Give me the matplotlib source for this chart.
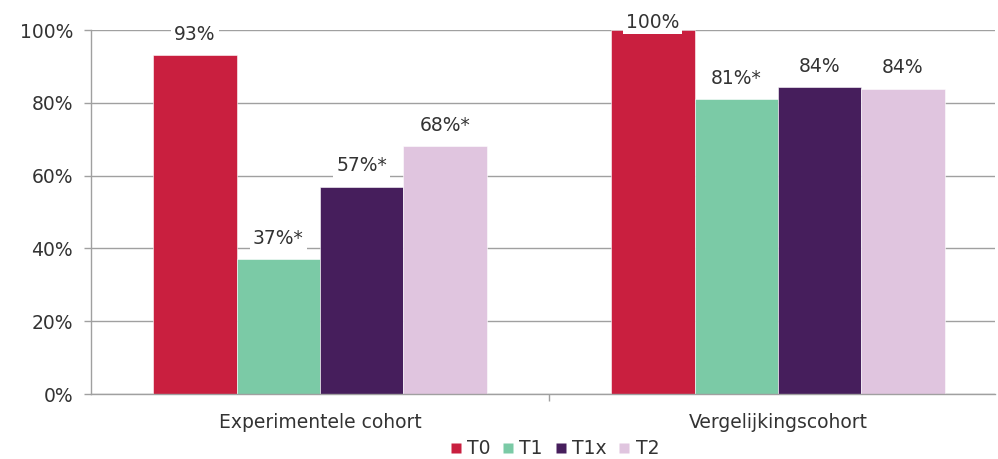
import numpy as np
import matplotlib
matplotlib.use("Agg")
import matplotlib.pyplot as plt
from matplotlib.lines import Line2D

# data
groups = ["Experimentele cohort", "Vergelijkingscohort"]
series = ["T0", "T1", "T1x", "T2"]
t0 = [93, 100]
t1 = [37, 81]
t1x = [57, 84.3]
t2 = [68, 83.8]
labels = [["93%", "100%"], ["37%*", "81%*"], ["57%*", "84%"], ["68%*", "84%"]]
colors = ["#C91F3F", "#7BCAA6", "#461E5C", "#E0C5DF"]

TXT = "#333333"
GRID = "#A0A0A0"
FS = 13.5
plt.rcParams["font.family"] = ["DejaVu Sans"]

fig = plt.figure(figsize=(9.98, 4.59), dpi=100)
W, H = 998, 459
ax = fig.add_axes([91 / W, 65 / H, 904 / W, 364 / H])

x = np.arange(len(groups))
w = 0.182
values = [t0, t1, t1x, t2]
px_per_unit = 364 / 100
for i, (vals, name) in enumerate(zip(values, series)):
    xs = x + (i - 1.5) * w
    ax.bar(xs, vals, w, color=colors[i], edgecolor="white", linewidth=0.4,
           label=name, zorder=2)
    for xx, v, lab in zip(xs, vals, labels[i]):
        off = min(21, (100 - v) * px_per_unit + 8)
        ax.annotate(lab, (xx, v), xytext=(0, off * 72 / 100),
                    textcoords="offset points", ha="center", va="center",
                    fontsize=FS, color=TXT, zorder=4,
                    bbox=dict(boxstyle="square,pad=0.15", fc="white", ec="none"))

ax.set_ylim(0, 100)
ax.set_xlim(-0.5, 1.5 - 12 / 458)
ax.set_yticks(np.arange(0, 101, 20))
ax.set_yticklabels([f"{v}%" for v in range(0, 101, 20)])
ax.yaxis.grid(True, color=GRID, linewidth=1.0, zorder=0)
ax.set_axisbelow(True)

ax.set_xticks([0.5])
ax.set_xticklabels([""])
for xi, g in zip(x, groups):
    ax.text(xi, -7.7, g, ha="center", va="center", fontsize=FS, color=TXT)

for s in ["top", "right"]:
    ax.spines[s].set_visible(False)
for s in ["left", "bottom"]:
    ax.spines[s].set_color(GRID)
    ax.spines[s].set_linewidth(1.0)
ax.tick_params(axis="both", colors=GRID, width=1.0, length=5,
               labelcolor=TXT, labelsize=FS)
ax.tick_params(axis="y", pad=8)

handles = [Line2D([], [], marker="s", linestyle="none", markersize=7,
                  markerfacecolor=c, markeredgecolor="none") for c in colors]
fig.legend(handles, series, loc="center", bbox_to_anchor=(554 / W, 1 - 449 / H),
           ncol=4, frameon=False, fontsize=FS, handlelength=0.7,
           handletextpad=0.25, columnspacing=0.6, labelcolor=TXT)

fig.savefig("out.png", dpi=100)
